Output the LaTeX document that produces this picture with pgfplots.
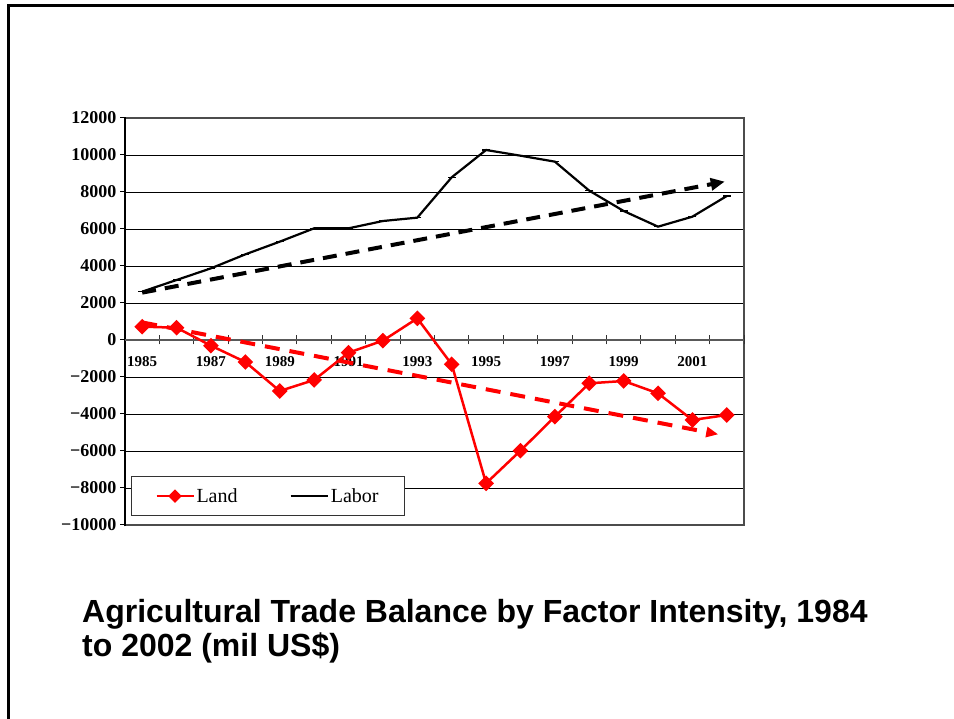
\documentclass[border=0pt]{standalone}
\usepackage{pgfplots}
\pgfplotsset{compat=1.18}
\usepackage{fontspec}
\setmainfont{Liberation Serif}
\newfontfamily\titlefont{Liberation Sans}
\usetikzlibrary{arrows.meta}

\pgfplotstableread{
idx land labor
0 720 2613
1 665 3243
2 -307 3874
3 -1190 4630
4 -2757 5315
5 -2162 6036
6 -685 6036
7 -36 6432
8 1170 6613
9 -1315 8793
10 -7748 10270
11 -5982 9962
12 -4144 9640
13 -2342 8072
14 -2216 6973
15 -2883 6126
16 -4324 6666
17 -4054 7784
}\datatable

\begin{document}
\begin{tikzpicture}[x=1pt,y=1pt]
\path[use as bounding box] (0,0) rectangle (954,719);
\draw[line width=3pt] (7,713.7) -- (954,713.7);
\draw[line width=3pt] (8.7,0) -- (8.7,715.2);

\begin{axis}[
  at={(125pt,194pt)}, anchor=south west,
  scale only axis, width=619pt, height=407pt,
  xmin=-0.5, xmax=17.5, ymin=-10000, ymax=12000,
  xtick=\empty,
  ytick={-10000,-8000,...,12000},
  yticklabels={−10000,−8000,−6000,−4000,−2000,0,2000,4000,6000,8000,10000,12000},
  scaled y ticks=false,
  yticklabel style={font=\bfseries\fontsize{18}{18}\selectfont},
  ymajorgrids, grid style={black, line width=0.8pt},
  axis line style={black!70, line width=1.5pt},
  ytick style={black, line width=1pt},
  tick align=outside, major tick length=5pt,
  ytick pos=left,
]
\end{axis}
\draw[black, line width=2.5pt] (125,192.5) -- (125,601.5);

\begin{axis}[
  at={(125pt,194pt)}, anchor=south west,
  scale only axis, width=619pt, height=407pt,
  xmin=-0.5, xmax=17.5, ymin=-10000, ymax=12000,
  axis x line=middle, axis y line=none,
  hide obscured x ticks=false,
  xtick={0,2,...,16},
  xticklabels={1985,1987,1989,1991,1993,1995,1997,1999,2001},
  xticklabel style={font=\bfseries\fontsize{15}{15}\selectfont, yshift=-13pt},
  major tick length=0pt,
  minor xtick={0.5,1.5,...,17.5},
  minor tick length=9pt,
  tick align=center,
  x axis line style={black!65, line width=1.2pt, -},
  every minor tick/.append style={black!80, line width=1pt},
  clip=false,
  legend columns=2,
  legend cell align=left,
  legend image code/.code={\draw[mark repeat=2,mark phase=2,#1] plot coordinates {(0pt,0pt) (18.5pt,0pt) (37pt,0pt)};},
  legend style={at={(0.0097,0.1204)}, anchor=north west, draw=black!80, line width=1pt,
    font=\fontsize{20}{20}\selectfont, inner xsep=24pt, inner ysep=10pt,
    /tikz/every even column/.append style={column sep=50pt}},
]
\addplot[red, line width=2.5pt, mark=square*, mark size=4.3pt, mark options={rotate=45, solid}, forget plot] table[x=idx, y=land] {\datatable};
\addplot[black, line width=2.2pt, mark=-, mark size=4pt, mark options={line width=1.5pt}, forget plot] table[x=idx, y=labor] {\datatable};
\addplot[black, line width=4pt, dash pattern=on 14pt off 9pt, -{Triangle[length=14pt,width=12pt]}, forget plot] coordinates {(0,2560) (16.94,8560)};
\addplot[red, line width=4pt, dash pattern=on 15pt off 10pt, -{Triangle[length=12pt,width=10pt]}, forget plot] coordinates {(0,950) (16.75,-5100)};
\addlegendimage{red, line width=2pt, mark=square*, mark size=3.8pt, mark options={rotate=45, solid}}
\addlegendentry{Land}
\addlegendimage{black, line width=2.2pt}
\addlegendentry{Labor}
\end{axis}

\node[anchor=base west, inner sep=0pt, font=\titlefont\bfseries\fontsize{32}{32}\selectfont] at (82,96) {Agricultural Trade Balance by Factor Intensity, 1984};
\node[anchor=base west, inner sep=0pt, font=\titlefont\bfseries\fontsize{32}{32}\selectfont] at (82,62.5) {to 2002 (mil US\$)};
\end{tikzpicture}
\end{document}
